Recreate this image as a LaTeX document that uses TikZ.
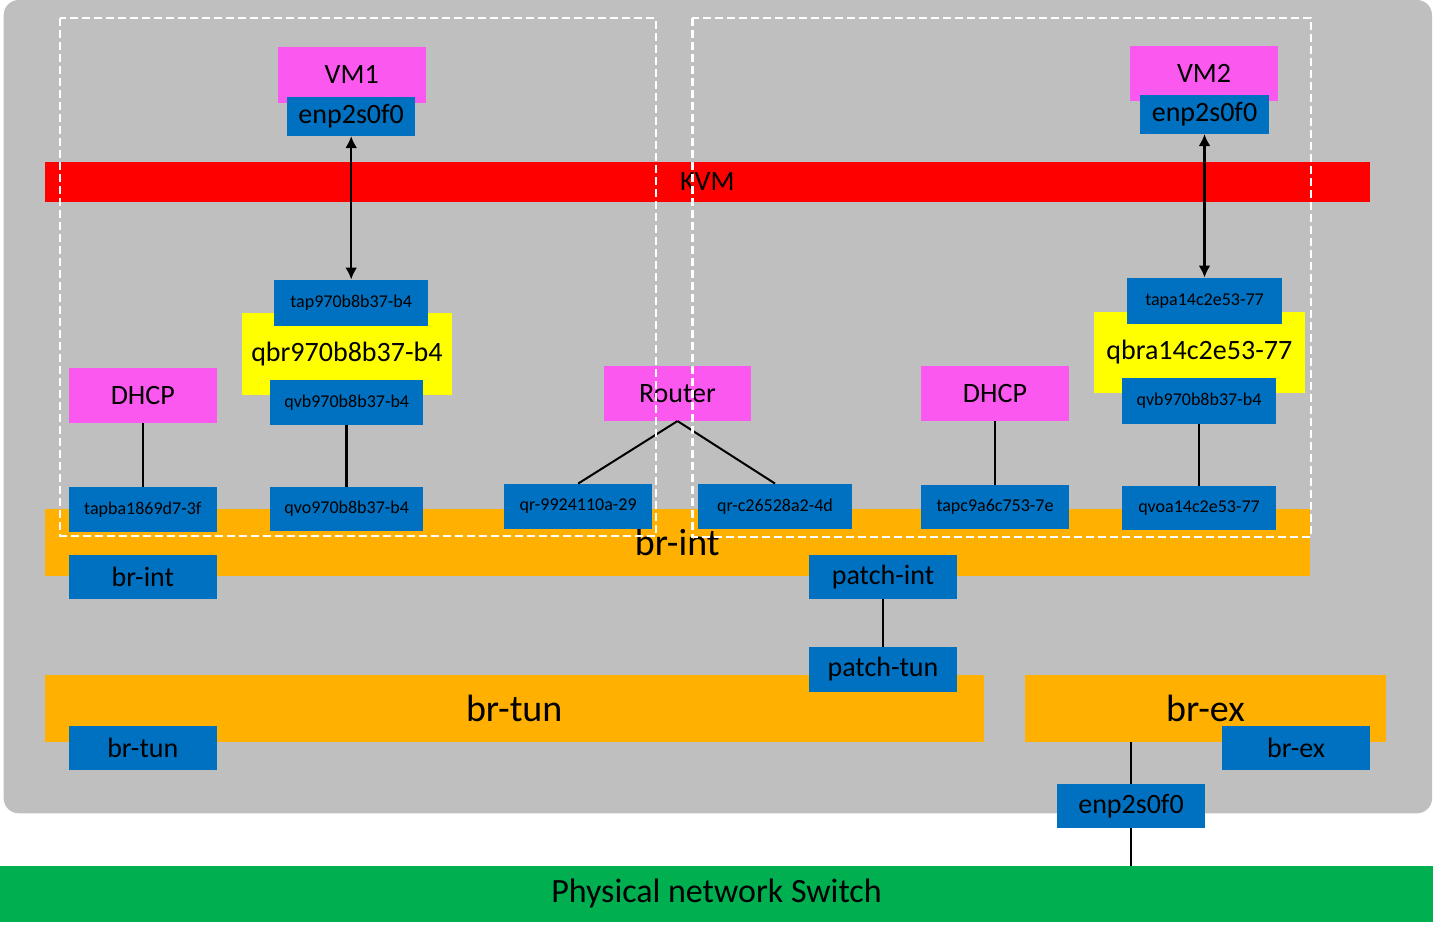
\documentclass[tikz,border=0pt]{standalone}
\usepackage{fontspec}
\setmainfont{Carlito}
\usepackage{tikz}
\usetikzlibrary{arrows.meta, positioning}
\definecolor{hostgray}{RGB}{191,191,191}
\definecolor{kvmred}{RGB}{255,0,0}
\definecolor{vmpink}{RGB}{250,88,238}
\definecolor{portblue}{RGB}{0,112,192}
\definecolor{qbryellow}{RGB}{255,255,0}
\definecolor{ovsorange}{RGB}{255,176,0}
\definecolor{switchgreen}{RGB}{0,176,80}

\begin{document}
\begin{tikzpicture}[
		x=0.5pt, y=-0.5pt,
		busbar/.style={inner sep=0pt, font=\fontsize{19pt}{22pt}\selectfont},
		hostbox/.style={fill=vmpink, inner sep=0pt, minimum width=73.9pt,
			minimum height=27.35pt, font=\fontsize{14pt}{16pt}\selectfont},
		qbrbox/.style={fill=qbryellow, inner sep=0pt, minimum width=105pt,
			font=\fontsize{14pt}{16pt}\selectfont},
		portbox/.style={fill=portblue, inner sep=0pt, minimum width=74pt,
			minimum height=21.85pt, font=\fontsize{9pt}{11pt}\selectfont},
		bigport/.style={portbox, font=\fontsize{14pt}{16pt}\selectfont},
		link/.style={line width=1.25pt, draw=black},
		biarrow/.style={{Latex[length=6pt,width=6pt]}-{Latex[length=6pt,width=6pt]},
			line width=1.2pt, draw=black},
		vmframe/.style={draw=white, line width=1.1pt, dash pattern=on 4pt off 2pt}
	]
		\useasboundingbox (0,0) rectangle (1433,930);
		% host and bars
		\fill[hostgray, rounded corners=7.5pt] (3.7,0) rectangle (1432,813.3);
		\node[busbar, fill=kvmred, minimum width=662.75pt, minimum height=19.7pt,
			font=\fontsize{14pt}{16pt}\selectfont] (kvm) at (707.25,182) {KVM};
		\node[busbar, fill=ovsorange, minimum width=632.75pt, minimum height=33.35pt] (brintbar) at (677.25,542.3) {br-int};
		\node[busbar, fill=ovsorange, minimum width=469.65pt, minimum height=33.35pt] (brtunbar) at (514.2,708.3) {br-tun};
		\node[busbar, fill=ovsorange, minimum width=180.4pt, minimum height=33.35pt] (brexbar) at (1205.4,708.3) {br-ex};
		\node[busbar, fill=switchgreen, minimum width=716.5pt, minimum height=27.85pt,
			font=\fontsize{17pt}{20pt}\selectfont] (physwitch) at (716.5,893.8) {Physical network Switch};
		% VM1 side
		\node[hostbox, minimum height=27.85pt] (vmone) at (351.7,74.8) {VM1};
		\node[bigport, minimum width=64.25pt, minimum height=19.35pt] (vmoneeth) at (351.2,116.3) {enp2s0f0};
		\node[qbrbox, minimum height=41.15pt] (qbrone) at (346.9,353.8) {qbr970b8b37-b4};
		\node[portbox, minimum width=77.2pt, minimum height=22.85pt] (tapone) at (351.2,302.8) {tap970b8b37-b4};
		\node[portbox, minimum width=76.65pt, minimum height=22.35pt] (qvbone) at (346.7,402.3) {qvb970b8b37-b4};
		\node[portbox, minimum width=76.65pt] (qvoone) at (346.7,508.8) {qvo970b8b37-b4};
		\node[hostbox] (dhcpone) at (142.8,395.3) {DHCP};
		\node[portbox, minimum width=73.9pt, minimum height=22.35pt] (tapdhcpone) at (142.8,509.3) {tapba1869d7-3f};
		% router
		\node[hostbox, minimum width=73.5pt] (router) at (677.5,393.3) {Router};
		\node[portbox, minimum width=74.2pt, minimum height=22.35pt] (qrone) at (578.2,506.3) {qr-9924110a-29};
		\node[portbox, minimum width=77pt, minimum height=22.35pt] (qrtwo) at (775,506.3) {qr-c26528a2-4d};
		% VM2 side
		\node[hostbox, minimum width=74pt] (vmtwo) at (1204,73.3) {VM2};
		\node[bigport, minimum width=64.5pt, minimum height=19.35pt] (vmtwoeth) at (1204.5,114.3) {enp2s0f0};
		\node[qbrbox, minimum width=105.25pt, minimum height=40.35pt] (qbrtwo) at (1199.3,352.3) {qbra14c2e53-77};
		\node[portbox, minimum width=77.5pt, minimum height=22.85pt] (taptwo) at (1204.5,300.8) {tapa14c2e53-77};
		\node[portbox, minimum width=77pt, minimum height=22.85pt] (qvbtwo) at (1199,400.8) {qvb970b8b37-b4};
		\node[portbox, minimum width=77pt, minimum height=22pt] (qvotwo) at (1199,508) {qvoa14c2e53-77};
		\node[hostbox, minimum width=74pt] (dhcptwo) at (995,393.3) {DHCP};
		\node[portbox] (tapdhcptwo) at (995,506.8) {tapc9a6c753-7e};
		% bridge ports
		\node[bigport, minimum width=73.9pt, minimum height=21.7pt] (brintport) at (142.8,577) {br-int};
		\node[bigport, minimum width=73.85pt, minimum height=21.7pt] (patchint) at (883,577) {patch-int};
		\node[bigport, minimum width=73.85pt, minimum height=22.35pt] (patchtun) at (883,669.3) {patch-tun};
		\node[bigport, minimum width=73.9pt] (brtunport) at (142.8,747.8) {br-tun};
		\node[bigport] (brexport) at (1296,747.8) {br-ex};
		\node[bigport] (exteth) at (1131,805.8) {enp2s0f0};
		% connectors
		\draw[biarrow] (vmoneeth) -- (tapone);
		\draw[biarrow] (vmtwoeth) -- (taptwo);
		\foreach \a/\b in {dhcpone/tapdhcpone,qvbone/qvoone,dhcptwo/tapdhcptwo,qvbtwo/qvotwo,patchint/patchtun}
			\draw[link] (\a) -- (\b);
		\foreach \b in {qrone,qrtwo}
			\draw[link, line width=1pt] (router.south) -- (\b.north);
		\draw[link] (exteth.north) -- (exteth.north |- brexbar.south);
		\draw[link] (exteth.south) -- (exteth.south |- physwitch.north);
		% VM frames
		\draw[vmframe] (60,18.3) rectangle (655.6,535.7);
		\draw[vmframe] (692.4,18.3) rectangle (1311,537);
	\end{tikzpicture}
\end{document}
